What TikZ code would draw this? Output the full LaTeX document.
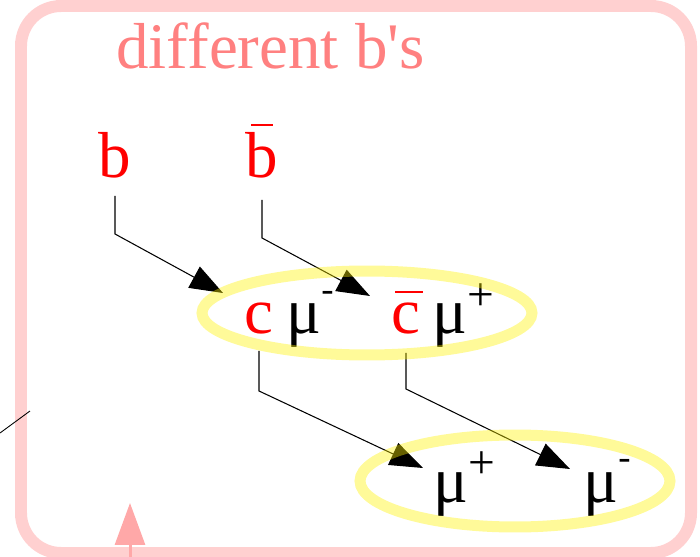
\documentclass[tikz,border=0pt]{standalone}
\usepackage{fontspec}
\newfontfamily\tnr{Liberation Serif}
\usetikzlibrary{arrows.meta,shapes.geometric}
\definecolor{framepink}{HTML}{FFD0D0}
\definecolor{titlepink}{HTML}{FF8080}
\definecolor{arrowpink}{HTML}{FFA8A8}
\newcommand{\supp}{\raisebox{0.36em}{\fontsize{27}{27}\selectfont +}}
\newcommand{\supm}{\raisebox{0.5em}{\fontsize{21}{21}\selectfont -}}
\begin{document}
\begin{tikzpicture}[x=0.02cm,y=-0.02cm,
    every node/.style={inner sep=0pt,font=\tnr\fontsize{37}{40}\selectfont},
    quark/.style={text=red,anchor=base},
    muon/.style={anchor=base},
    flow/.style={-{Triangle[length=0.66cm,width=0.48cm]},line width=0.6pt},
    pair/.style={ellipse,draw=yellow,draw opacity=0.4,line width=0.22cm}]
  \useasboundingbox (0,0) rectangle (700,557);
  % frame and title
  \draw[framepink,line width=0.24cm,rounded corners=0.8cm] (21,6) rectangle (691,553);
  \node[text=titlepink,anchor=base west] (title) at (116,69) {different b's};
  % quarks and muons
  \node[quark] (b) at (115,178) {b};
  \node[quark] (bbar) at (262,178) {b};
  \draw[red,line width=0.7pt] ([shift={(-11,-53)}]bbar.base) -- ([shift={(11,-53)}]bbar.base);
  \node[quark] (c) at (259,334) {c};
  \node[muon] (mum) at (310,334) {μ\supm};
  \node[quark] (cbar) at (406,334) {c};
  \draw[red,line width=0.7pt] ([shift={(-11,-42)}]cbar.base) -- ([shift={(17,-42)}]cbar.base);
  \node[muon] (mup) at (463,334) {μ\supp};
  \node[muon] (mup2) at (464,502) {μ\supp};
  \node[muon] (mum2) at (607,502) {μ\supm};
  % decay lines
  \coordinate (t1) at (223,293);
  \coordinate (t2) at (370,296);
  \coordinate (t3) at (423,468);
  \coordinate (t4) at (570,469);
  \draw[flow] ([shift={(0,17)}]b.south) -- ++(0,38) -- (t1);
  \draw[flow] ([shift={(0,21)}]bbar.south) -- ++(0,38) -- (t2);
  \draw[flow] ([shift={(0,16)}]c.south) -- ++(0,40) -- (t3);
  \draw[flow] ([shift={(0,18)}]cbar.south) -- ++(0,36) -- (t4);
  % pairs
  \node[pair,minimum width=6.6cm,minimum height=1.68cm] (grp1) at (367,313) {};
  \node[pair,minimum width=6.2cm,minimum height=1.84cm] (grp2) at (515,481) {};
  % loose bits at the edge
  \coordinate (l1) at (0,433);
  \coordinate (l2) at (30,411);
  \draw[line width=0.5pt] (l1) -- (l2);
  \coordinate (pa) at (130,560);
  \coordinate (pb) at (130,503);
  \draw[arrowpink,line width=0.06cm,-{Triangle[length=0.84cm,width=0.6cm]}] (pa) -- (pb);
\end{tikzpicture}
\end{document}
